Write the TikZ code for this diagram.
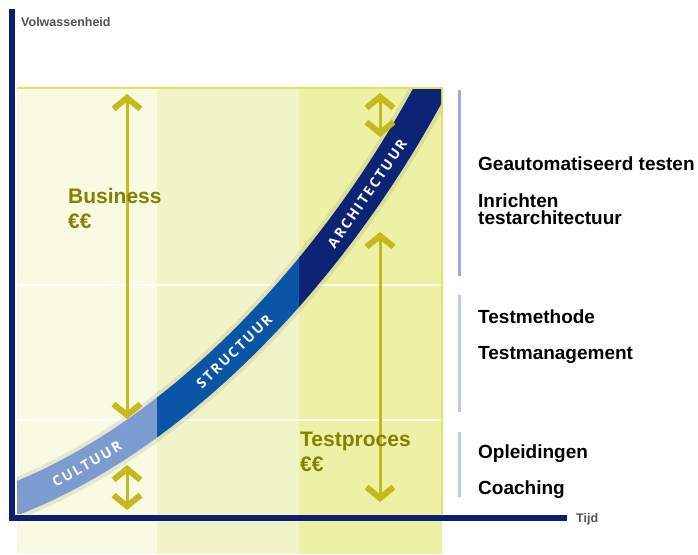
\documentclass[tikz,border=0pt]{standalone}
\usepackage{fontspec}
\setmainfont{Liberation Sans}
\newfontfamily\bandfont[LetterSpace=14]{Open Sans}
\usetikzlibrary{arrows.meta}

\definecolor{axisblue}{HTML}{0E1F6E}
\definecolor{bandA}{HTML}{F9FAE2}
\definecolor{bandB}{HTML}{F1F4C6}
\definecolor{bandC}{HTML}{ECF1A6}
\definecolor{panelrim}{HTML}{E2E55A}
\definecolor{chevcol}{HTML}{C5BA1C}
\definecolor{olivetext}{HTML}{858000}
\definecolor{curveA}{HTML}{7C9BD1}
\definecolor{curveB}{HTML}{0B55A6}
\definecolor{curveC}{HTML}{0D2375}
\definecolor{sideA}{HTML}{A4ABD6}
\definecolor{sideB}{HTML}{B6CCE8}

\tikzset{chevtip/.tip={Straight Barb[length=11pt,width=27pt,line width=6pt]}}
\tikzset{chev/.style={draw=chevcol,line width=3pt,chevtip-chevtip}}
\tikzset{sidetext/.style={anchor=base west,inner sep=0pt,font=\fontsize{19}{22}\selectfont\bfseries}}
\tikzset{costtext/.style={anchor=base west,inner sep=0pt,text=olivetext,font=\fontsize{21}{24}\selectfont\bfseries}}
\tikzset{curvetext/.style={sloped,text=white,inner sep=0pt,font=\bandfont\fontsize{14}{16}\selectfont\bfseries}}
\tikzset{axistext/.style={anchor=base west,inner sep=0pt,text=black!68,font=\fontsize{12.5}{14}\selectfont\bfseries}}

\def\curvepath{(10,501) .. controls (180,436) and (345,262) .. (445,62)}

\begin{document}
\begin{tikzpicture}[x=1pt,y=-1pt]
      \useasboundingbox (0,0) rectangle (698,554);
      \fill[white] (0,0) rectangle (698,554);

      % background panel
      \fill[bandA] (17,88) rectangle (157,554);
      \fill[bandB] (157,88) rectangle (299,554);
      \fill[bandC] (299,88) rectangle (442,554);
      \draw[white,line width=1.5pt,opacity=0.8] (17,285) -- (441,285);
      \draw[white,line width=1.5pt,opacity=0.8] (17,420) -- (441,420);
      \draw[panelrim,line width=2pt] (17,88) -- (442,88) -- (442,514);

      % maturity curve
      \begin{scope}
        \clip (17,89) rectangle (441,513);
        \draw[black,opacity=0.08,line width=40pt] \curvepath;
        \begin{scope}
          \clip (0,0) rectangle (157,554);
          \draw[curveA,line width=32pt] \curvepath;
        \end{scope}
        \begin{scope}
          \clip (157,0) rectangle (299,554);
          \draw[curveB,line width=32pt] \curvepath;
        \end{scope}
        \begin{scope}
          \clip (299,0) rectangle (460,554);
          \draw[curveC,line width=32pt] \curvepath;
        \end{scope}
      \end{scope}
      \path \curvepath
        node[curvetext,pos=0.152] (cultuur) {CULTUUR}
        node[curvetext,pos=0.457] (structuur) {STRUCTUUR}
        node[curvetext,pos=0.772] (architectuur) {ARCHITECTUUR};

      % axes
      \draw[axisblue,line width=6pt] (12,9) -- (12,518) -- (567,518);
      \node[axistext] (ylabel) at (21,26) {Volwassenheid};
      \node[axistext] (xlabel) at (576,522) {Tijd};

      % arrows
      \coordinate (bizTop) at (127,94);
      \coordinate (bizBot) at (127,419);
      \coordinate (cultTop) at (127,465);
      \coordinate (cultBot) at (127,510);
      \coordinate (archTop) at (380,93);
      \coordinate (archBot) at (380,137);
      \coordinate (procTop) at (380,232);
      \coordinate (procBot) at (380,502);
      \draw[chev] (bizTop) -- (bizBot);
      \draw[chev] (cultTop) -- (cultBot);
      \draw[chev] (archTop) -- (archBot);
      \draw[chev] (procTop) -- (procBot);

      \node[costtext] (business) at (68,203) {Business};
      \node[costtext] (businessEur) at (68,228) {€€};
      \node[costtext] (testproces) at (300,446) {Testproces};
      \node[costtext] (testprocesEur) at (300,471) {€€};

      % side lists
      \draw[sideA,line width=3pt] (459,90) -- (459,276);
      \draw[sideB,line width=3pt] (459,295) -- (459,412);
      \draw[sideB,line width=3pt] (459,432) -- (459,497);

      \node[sidetext] (auto) at (478,170) {Geautomatiseerd testen};
      \node[sidetext] (inrichten) at (478,207) {Inrichten};
      \node[sidetext] (testarch) at (478,224) {testarchitectuur};
      \node[sidetext] (methode) at (478,323) {Testmethode};
      \node[sidetext] (management) at (478,359) {Testmanagement};
      \node[sidetext] (opleiding) at (478,458) {Opleidingen};
      \node[sidetext] (coaching) at (478,494) {Coaching};
    \end{tikzpicture}
\end{document}
